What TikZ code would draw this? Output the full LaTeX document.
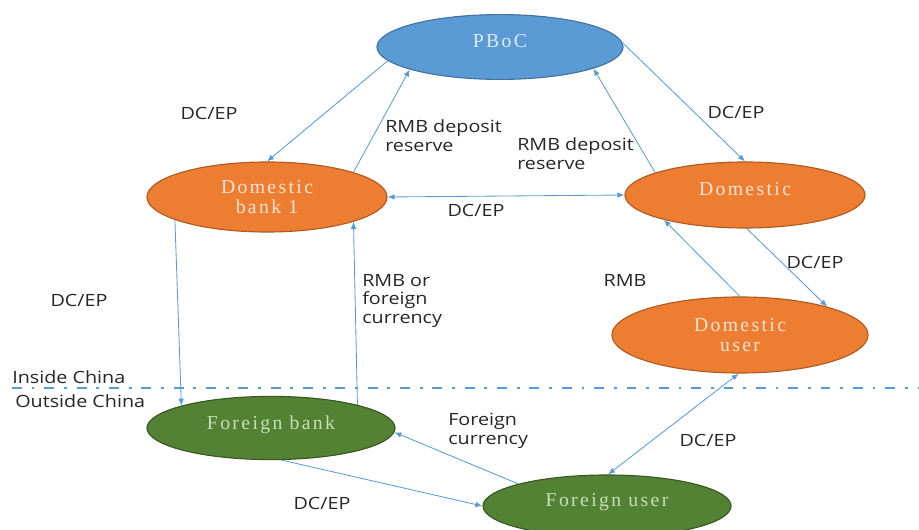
\documentclass[tikz,border=0pt]{standalone}
\usepackage{fontspec}
\usetikzlibrary{shapes.geometric, arrows.meta}
\newfontfamily\labelfont[FakeStretch=1.17]{Open Sans}
\newfontfamily\boxfont[LetterSpace=12]{Liberation Serif}
\definecolor{linkblue}{HTML}{5B9BD5}
\definecolor{pbocfill}{HTML}{5B9BD5}
\definecolor{pbocline}{HTML}{41719C}
\definecolor{pboctext}{HTML}{DDEBF7}
\definecolor{domfill}{HTML}{ED7D31}
\definecolor{domline}{HTML}{AE5A21}
\definecolor{domtext}{HTML}{FBE5D6}
\definecolor{forfill}{HTML}{548235}
\definecolor{forline}{HTML}{385723}
\definecolor{fortext}{HTML}{C5E0B4}
\definecolor{labelgray}{HTML}{262626}

\begin{document}
\begin{tikzpicture}[x=0.025cm, y=-0.025cm,
  bank/.style={ellipse, draw, line width=0.8pt, inner sep=0pt, align=center,
    font=\boxfont\fontsize{14}{14.5}\selectfont},
  oneline/.style={text depth=8pt},
  txt/.style={font=\labelfont\fontsize{12}{13.5}\selectfont, text=labelgray,
    align=left, inner sep=0pt},
  flow/.style={draw=linkblue, line width=0.6pt, -{Latex[length=5pt,width=4pt]}},
  flows/.style={flow, {Latex[length=5pt,width=4pt]}-{Latex[length=5pt,width=4pt]}}]
   \useasboundingbox (0,0) rectangle (919,530);

   \node[bank, oneline, fill=pbocfill, draw=pbocline, text=pboctext, minimum width=6.15cm, minimum height=1.62cm] (pboc) at (500,47) {PBoC};
   \node[bank, fill=domfill, draw=domline, text=domtext, minimum width=6.0cm, minimum height=1.75cm] (bankA) at (267,197) {Domestic\\bank 1};
   \node[bank, oneline, fill=domfill, draw=domline, text=domtext, minimum width=6.0cm, minimum height=1.65cm] (bankB) at (745,195) {Domestic};
   \node[bank, fill=domfill, draw=domline, text=domtext, minimum width=6.4cm, minimum height=1.9cm] (duser) at (740,335) {Domestic\\user};
   \node[bank, oneline, fill=forfill, draw=forline, text=fortext, minimum width=6.2cm, minimum height=1.58cm] (fbank) at (271,428) {Foreign bank};
   \node[bank, oneline, fill=forfill, draw=forline, text=fortext, minimum width=6.2cm, minimum height=1.55cm] (fuser) at (607,506) {Foreign user};

   \draw[linkblue, line width=0.8pt, dash pattern=on 7pt off 7pt on 2pt off 7pt] (12,388) -- (919,388);
   \node[txt, anchor=west] (inside) at (12,377) {Inside China};
   \node[txt, anchor=west] (outside) at (15,401) {Outside China};

   \draw[flow] (pboc.187) -- (bankA.90);
   \draw[flow] (bankA.16) -- (pboc.194);
   \draw[flow] (bankB.166) -- (pboc.-13);
   \draw[flow] (pboc.2) -- (bankB.90);
   \draw[flows] (bankA.east) -- (bankB.west);
   \draw[flow] (bankB.-87) -- (duser.18);
   \draw[flow] (duser.90) -- (bankB.197);
   \draw[flows] (duser.-92) -- (fuser.88);
   \draw[flow] (bankA.194) -- (fbank.166);
   \draw[flow] (fbank.15) -- (bankA.-16);
   \draw[flow] (fuser.166) -- (fbank.-2);
   \draw[flow] (fbank.-72) -- (fuser.west);

   \node[txt] (dcA) at (209,113) {DC/EP};
   \node[txt, anchor=west] (resA) at (385,136) {RMB deposit\\reserve};
   \node[txt, anchor=west] (resB) at (517,154) {RMB deposit\\reserve};
   \node[txt] (dcB) at (736,112) {DC/EP};
   \node[txt] (dcC) at (476,210) {DC/EP};
   \node[txt] (dcD) at (79,300) {DC/EP};
   \node[txt, anchor=west] (rmbfx) at (362,301) {RMB or\\foreign\\currency};
   \node[txt] (rmb) at (625,280) {RMB};
   \node[txt] (dcE) at (815,262) {DC/EP};
   \node[txt, anchor=west] (fx) at (448,431) {Foreign\\currency};
   \node[txt] (dcF) at (708,440) {DC/EP};
   \node[txt] (dcG) at (322,503) {DC/EP};
\end{tikzpicture}
\end{document}
